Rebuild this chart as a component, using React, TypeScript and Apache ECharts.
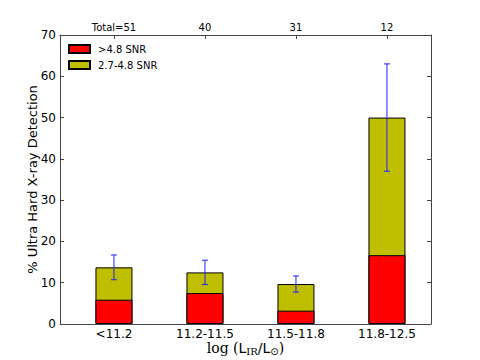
import React, { useEffect, useRef } from "react";
import * as echarts from "echarts";

const categories = ["<11.2", "11.2-11.5", "11.5-11.8", "11.8-12.5"];
const totals = ["Total=51", "40", "31", "12"];
const highSnr = [5.88, 7.5, 3.23, 16.67];
const midSnr = [7.84, 5.0, 6.45, 33.33];
const errors = [3.0, 2.95, 1.95, 13.0];
const positions = [0, 1, 2, 3];

const FONT = "DejaVu Sans";

export default function App() {
  const ref = useRef<HTMLDivElement>(null);
  useEffect(() => {
    document.body.style.margin = "0";
    const chart = echarts.init(ref.current!, null, { renderer: "svg" });
    const axisLine = { show: true, onZero: false, lineStyle: { color: "#444", width: 1 } };
    const errData = positions.map((p, i) => {
      const c = highSnr[i] + midSnr[i];
      return [p, c - errors[i], c + errors[i]];
    });
    chart.setOption({
      animation: false,
      backgroundColor: "#fff",
      textStyle: { fontFamily: FONT },
      grid: { left: 60, right: 49, top: 35, bottom: 36, containLabel: false, outerBoundsMode: "none" },
      legend: {
        orient: "vertical",
        left: 68,
        top: 44,
        padding: 0,
        itemWidth: 21,
        itemHeight: 8,
        itemGap: 6,
        icon: "rect",
        textStyle: { fontSize: 10, color: "#000", fontFamily: FONT, padding: [0, 0, 0, 3] },
        data: [">4.8 SNR", "2.7-4.8 SNR"],
      },
      xAxis: [
        {
          type: "value",
          position: "bottom",
          min: -0.593,
          max: 3.484,
          axisLine,
          splitLine: { show: false },
          axisTick: { show: true, inside: true, length: 4, customValues: positions, lineStyle: { color: "#444" } },
          axisLabel: {
            customValues: positions,
            formatter: (v: number) => categories[Math.round(v)] ?? "",
            fontSize: 12,
            color: "#000",
            margin: 4,
            fontFamily: FONT,
          },
          name: "{a|log (}{b|L}{s|IR}{b|/L}{o|⊙}{a|)}",
          nameLocation: "middle",
          nameGap: 16,
          nameMoveOverlap: false,
          nameTextStyle: {
            rich: {
              a: { fontFamily: "DejaVu Serif", fontSize: 14, color: "#000" },
              b: { fontFamily: FONT, fontSize: 14, color: "#000" },
              s: { fontFamily: "DejaVu Serif", fontSize: 10, color: "#000", verticalAlign: "bottom", padding: [6, 0, 0, 0] },
              o: { fontFamily: "DejaVu Sans", fontSize: 10, color: "#000", padding: [6, 0, 0, 0] },
            },
          },
        },
        {
          type: "value",
          position: "top",
          min: -0.593,
          max: 3.484,
          axisLine,
          splitLine: { show: false },
          axisTick: { show: true, inside: true, length: 4, customValues: positions, lineStyle: { color: "#444" } },
          axisLabel: {
            customValues: positions,
            formatter: (v: number) => totals[Math.round(v)] ?? "",
            fontSize: 10,
            color: "#000",
            margin: 3,
            fontFamily: FONT,
          },
        },
      ],
      yAxis: [
        {
          type: "value",
          min: 0,
          max: 70,
          interval: 10,
          position: "left",
          axisLine,
          splitLine: { show: false },
          axisTick: { show: true, inside: true, length: 4, lineStyle: { color: "#444" } },
          axisLabel: { fontSize: 12, color: "#000", margin: 4, fontFamily: FONT },
          name: "% Ultra Hard X-ray Detection",
          nameLocation: "middle",
          nameGap: 21,
          nameMoveOverlap: false,
          nameTextStyle: { fontSize: 13, color: "#000", fontFamily: FONT },
        },
        {
          type: "value",
          min: 0,
          max: 70,
          interval: 10,
          position: "right",
          axisLine,
          splitLine: { show: false },
          axisTick: { show: true, inside: true, length: 4, lineStyle: { color: "#444" } },
          axisLabel: { show: false },
        },
      ],
      series: [
        {
          name: ">4.8 SNR",
          type: "bar",
          barWidth: 37,
          barGap: "-100%",
          z: 3,
          itemStyle: { color: "#ff0000", borderColor: "#000", borderWidth: 1 },
          data: positions.map((p, i) => [p, highSnr[i]]),
        },
        {
          name: "2.7-4.8 SNR",
          type: "bar",
          barWidth: 37,
          barGap: "-100%",
          z: 2,
          itemStyle: { color: "#bfbf00", borderColor: "#000", borderWidth: 1 },
          data: positions.map((p, i) => [p, highSnr[i] + midSnr[i]]),
        },
        {
          name: "err",
          type: "custom",
          z: 10,
          encode: { x: 0, y: [1, 2] },
          data: errData,
          renderItem: (params: any, api: any) => {
            const x = api.value(0);
            const lo = api.coord([x, api.value(1)]);
            const hi = api.coord([x, api.value(2)]);
            const c = 3;
            const style = { stroke: "#2020ff", lineWidth: 1 };
            return {
              type: "group",
              children: [
                { type: "line", shape: { x1: lo[0], y1: lo[1], x2: hi[0], y2: hi[1] }, style },
                { type: "line", shape: { x1: lo[0] - c, y1: lo[1], x2: lo[0] + c, y2: lo[1] }, style },
                { type: "line", shape: { x1: hi[0] - c, y1: hi[1], x2: hi[0] + c, y2: hi[1] }, style },
              ],
            };
          },
        },
      ],
    });
    return () => chart.dispose();
  }, []);
  return <div ref={ref} style={{ width: 480, height: 360, position: "absolute", left: 0, top: 0 }} />;
}
